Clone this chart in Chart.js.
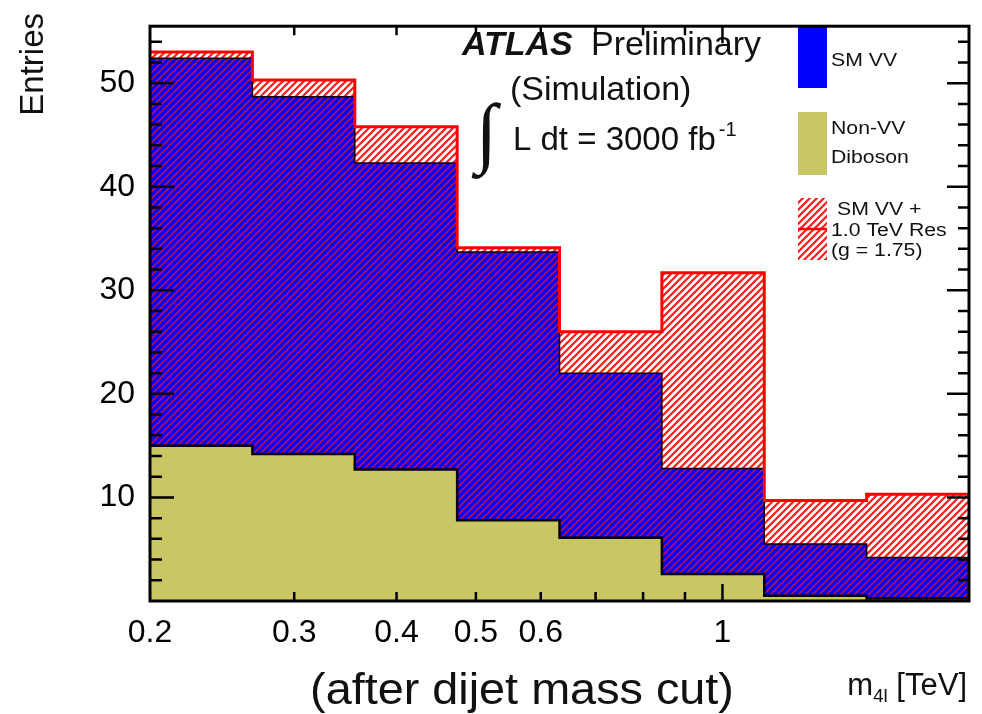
<!DOCTYPE html>
<html>
<head>
<meta charset="utf-8">
<script src="https://cdn.jsdelivr.net/npm/chart.js@4.4.1/dist/chart.umd.min.js"></script>
<style>
  body { margin: 0; background: #fff; }
  canvas { display: block; }
</style>
</head>
<body>
<canvas id="histChart" width="982" height="714"></canvas>
<script>
// bin edges, m4l in TeV (8 bins, equal width in log)
const binEdges = [0.2, 0.2667, 0.3557, 0.4743, 0.6325, 0.8434, 1.1247, 1.4998, 2.0];

// entries per bin, read as the top of each stacked histogram
const nonVVDiboson = [15.0, 14.2, 12.7, 7.8, 6.1, 2.6, 0.5, 0.25];
const smVV = [52.4, 48.7, 42.3, 33.7, 22.0, 12.8, 5.5, 4.2];
const smVVPlusRes = [53.0, 50.3, 45.8, 34.1, 26.0, 31.7, 9.7, 10.3];

// axis ticks
const xTickLabels = [0.2, 0.3, 0.4, 0.5, 0.6, 1];
const yTickLabels = [10, 20, 30, 40, 50];
const xMinorTicks = [0.3, 0.4, 0.5, 0.6, 0.7, 0.8, 0.9];
const xMajorTicks = [1];
const yMax = 55.5;

const FONT = '"Liberation Sans", Arial, sans-serif';
Chart.defaults.font.family = FONT;

const canvas = document.getElementById('histChart');
const ctx = canvas.getContext('2d');

// histogram -> points for a stepped line (last bin repeated at the right edge)
function steps(vals) {
  const pts = vals.map((v, i) => ({ x: binEdges[i], y: v }));
  pts.push({ x: binEdges[binEdges.length - 1], y: vals[vals.length - 1] });
  return pts;
}

function hatch(bg, line, width) {
  const s = 7;
  const c = document.createElement('canvas');
  c.width = s; c.height = s;
  const g = c.getContext('2d');
  g.fillStyle = bg;
  g.fillRect(0, 0, s, s);
  g.strokeStyle = line;
  g.lineWidth = width;
  g.beginPath();
  g.moveTo(0, s); g.lineTo(s, 0);
  g.moveTo(-s / 2, s / 2); g.lineTo(s / 2, -s / 2);
  g.moveTo(s / 2, s * 1.5); g.lineTo(s * 1.5, s / 2);
  g.stroke();
  return ctx.createPattern(c, 'repeat');
}

const blueHatch = hatch('#0000ff', '#d8103c', 1.3);
const redHatch = hatch('#ffffff', '#ff1a1a', 2.2);
const olive = '#c9c763';

function label(c, text, x, y, font, sx, align) {
  c.save();
  c.font = font;
  c.textAlign = align || 'left';
  c.textBaseline = 'alphabetic';
  c.translate(x, y);
  c.scale(sx || 1, 1);
  c.fillText(text, 0, 0);
  c.restore();
}

// frame with ROOT style inward ticks
const frame = {
  id: 'frame',
  afterDraw(chart) {
    const { ctx: c, chartArea: a, scales: { x, y } } = chart;
    c.save();
    c.strokeStyle = '#000';
    c.lineWidth = 2.5;
    c.beginPath();
    for (let v = 2; v < yMax; v += 2) {
      const py = y.getPixelForValue(v);
      const major = v % 10 === 0;
      c.moveTo(a.left, py); c.lineTo(a.left + (major ? 24 : 12), py);
      c.moveTo(a.right, py); c.lineTo(a.right - (major ? 22 : 11), py);
    }
    xMinorTicks.concat(xMajorTicks).forEach(v => {
      const px = x.getPixelForValue(v);
      const len = xMajorTicks.includes(v) ? 17 : 9;
      c.moveTo(px, a.bottom); c.lineTo(px, a.bottom - len);
      c.moveTo(px, a.top); c.lineTo(px, a.top + len);
    });
    c.stroke();
    c.lineWidth = 3;
    c.strokeRect(a.left, a.top, a.right - a.left, a.bottom - a.top);
    c.restore();
  }
};

// legend + ATLAS labels + axis titles
const texts = {
  id: 'texts',
  afterDraw(chart) {
    const c = chart.ctx;
    c.save();

    // legend
    c.fillStyle = '#0000ff';
    c.fillRect(798, 25, 29, 63);
    c.fillStyle = olive;
    c.fillRect(798, 112, 29, 63);
    c.fillStyle = redHatch;
    c.fillRect(798, 198, 29, 62);
    c.strokeStyle = '#ff0000';
    c.lineWidth = 2.5;
    c.beginPath();
    c.moveTo(798, 229); c.lineTo(827, 229);
    c.stroke();

    c.fillStyle = '#111';
    const lf = '18px ' + FONT;
    label(c, 'SM VV', 831, 66, lf, 1.18);
    label(c, 'Non-VV', 831, 134, lf, 1.18);
    label(c, 'Diboson', 831, 163, lf, 1.18);
    label(c, 'SM VV +', 837, 215, lf, 1.18);
    label(c, '1.0 TeV Res', 831, 236, lf, 1.18);
    label(c, '(g = 1.75)', 831, 256, lf, 1.18);

    // ATLAS
    label(c, 'ATLAS', 462, 55, 'italic bold 34px ' + FONT);
    label(c, 'Preliminary', 591, 55, '34px ' + FONT);
    label(c, '(Simulation)', 510, 100, '34px ' + FONT);
    label(c, '\u222B', 476, 158, '78px "Liberation Serif", serif');
    c.font = '33px ' + FONT;
    const lumi = 'L dt = 3000 fb';
    const w = c.measureText(lumi).width;
    label(c, lumi, 513, 150, '33px ' + FONT);
    label(c, '-1', 513 + w + 3, 136, '20px ' + FONT);

    // axis titles
    c.save();
    c.font = '33px ' + FONT;
    c.textAlign = 'right';
    c.textBaseline = 'middle';
    c.translate(34, 13);
    c.rotate(-Math.PI / 2);
    c.fillText('Entries', 0, 0);
    c.restore();

    label(c, '(after dijet mass cut)', 522, 704, '45px ' + FONT, 1.04, 'center');

    c.font = '31px ' + FONT;
    const wUnit = c.measureText(' [TeV]').width;
    c.font = '19px ' + FONT;
    const wSub = c.measureText('4l').width;
    c.font = '31px ' + FONT;
    const wM = c.measureText('m').width;
    const x0 = 967 - wUnit - wSub - wM;
    label(c, 'm', x0, 695, '31px ' + FONT);
    label(c, '4l', x0 + wM, 702, '19px ' + FONT);
    label(c, ' [TeV]', x0 + wM + wSub, 695, '31px ' + FONT);
    c.restore();
  }
};

const data = {
  datasets: [
    {
      label: 'SM VV + 1.0 TeV Res (g = 1.75)',
      data: steps(smVVPlusRes),
      borderColor: '#ff0000',
      borderWidth: 3,
      fill: false
    },
    {
      label: 'Non-VV Diboson',
      data: steps(nonVVDiboson),
      borderColor: '#000',
      borderWidth: 2.5,
      backgroundColor: olive,
      fill: 'origin'
    },
    {
      label: 'SM VV',
      data: steps(smVV),
      borderColor: '#000',
      borderWidth: 1.5,
      backgroundColor: blueHatch,
      fill: 'origin'
    },
    {
      label: 'SM VV + Res fill',
      data: steps(smVVPlusRes),
      borderWidth: 0,
      borderColor: 'rgba(0,0,0,0)',
      backgroundColor: redHatch,
      fill: 'origin'
    }
  ]
};

const config = {
  type: 'line',
  data: data,
  options: {
    responsive: false,
    animation: false,
    devicePixelRatio: 1,
    elements: { point: { radius: 0 }, line: { stepped: true, tension: 0 } },
    layout: { padding: { top: 13, right: 13, left: 0, bottom: 0 } },
    plugins: { legend: { display: false }, tooltip: { enabled: false } },
    scales: {
      x: {
        type: 'logarithmic',
        min: 0.2,
        max: 2.0,
        grid: { display: false },
        border: { display: false },
        afterBuildTicks: s => { s.ticks = xTickLabels.map(v => ({ value: v })); },
        afterFit: s => { s.height = 113; },
        ticks: {
          autoSkip: false,
          maxRotation: 0,
          padding: 5,
          color: '#000',
          font: { size: 32 },
          callback: v => String(v)
        }
      },
      y: {
        min: 0,
        max: yMax,
        grid: { display: false },
        border: { display: false },
        afterBuildTicks: s => { s.ticks = yTickLabels.map(v => ({ value: v })); },
        afterFit: s => { s.width = 150; },
        ticks: {
          padding: 7,
          color: '#000',
          font: { size: 32 },
          callback: v => String(v)
        }
      }
    }
  },
  plugins: [texts, frame]
};

const histChart = new Chart(canvas, config);
</script>
</body>
</html>
